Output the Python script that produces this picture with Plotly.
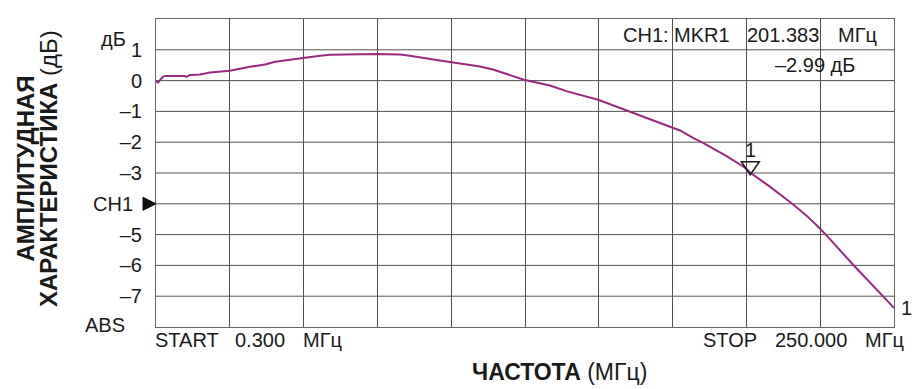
import plotly.graph_objects as go

# ---- data ----
freq_mhz = [0.3, 1.0, 2.7, 3.4, 10.1, 10.5, 11.8, 15.2, 18.6, 23.6, 25.3, 32.1, 37.2,
            40.6, 45.6, 50.0, 55.8, 59.2, 66.0, 75.1, 82.9, 86.2, 94.7, 100.1, 103.2,
            109.9, 114.3, 124.8, 133.6, 139.4, 149.9, 159.7, 166.4, 174.5, 177.6,
            182.0, 185.4, 193.5, 199.6, 201.4, 208.1, 215.9, 220.6, 224.7, 227.4,
            236.1, 242.9, 250.0]
gain_db = [-0.03, -0.06, 0.13, 0.15, 0.15, 0.12, 0.18, 0.20, 0.26, 0.29, 0.32, 0.45, 0.52,
           0.61, 0.68, 0.74, 0.81, 0.84, 0.85, 0.86, 0.85, 0.81, 0.68, 0.60, 0.57,
           0.46, 0.36, 0.03, -0.16, -0.35, -0.62, -0.97, -1.21, -1.49, -1.62,
           -1.86, -2.02, -2.46, -2.83, -2.99, -3.45, -4.02, -4.40, -4.78, -5.05,
           -5.97, -6.66, -7.38]
start_mhz = 0.300
stop_mhz = 250.000
marker_freq = 201.383
marker_db = -2.99
ytick_vals = [1, 0, -1, -2, -3, -5, -6, -7]
ytick_text = ["1", "0", "–1", "–2", "–3", "–5", "–6", "–7"]
ch1_ref_db = -4

# ---- layout geometry ----
W, H = 921, 389
ML, MR, MT, MB = 156, 27, 19, 62
PW, PH = W - ML - MR, H - MT - MB
FONT = "Liberation Sans, Arial, sans-serif"
LINE = "#9a2a80"
GRID = "#505050"
FS = 20


def px(xp):
    return (xp - ML) / PW


def py(yp):
    return (H - MB - yp) / PH


fig = go.Figure()
fig.add_trace(go.Scatter(x=freq_mhz, y=gain_db, mode="lines",
                         line=dict(color=LINE, width=2), hoverinfo="skip",
                         showlegend=False))

fig.update_layout(
    width=W, height=H,
    margin=dict(l=ML, r=MR, t=MT, b=MB, pad=0),
    paper_bgcolor="white", plot_bgcolor="white",
    font=dict(family=FONT, size=FS, color="#1a1a1a"),
    showlegend=False,
)
fig.update_xaxes(range=[start_mhz, stop_mhz], tick0=start_mhz,
                 dtick=(stop_mhz - start_mhz) / 10, showticklabels=False,
                 showgrid=True, gridcolor=GRID, gridwidth=1, zeroline=False,
                 showline=True, linecolor="#666666", linewidth=1, mirror=True,
                 ticks="")
fig.update_yaxes(range=[-8, 2], tickvals=ytick_vals, ticktext=ytick_text,
                 showgrid=False, zeroline=False,
                 showline=True, linecolor="#666666", linewidth=1, mirror=True,
                 ticks="", ticklabelstandoff=9,
                 tickfont=dict(family=FONT, size=FS, color="#1a1a1a"))
# horizontal grid lines every 1 dB (incl. -4 which has no numeric label)
for v in range(-7, 2):
    fig.add_shape(type="line", xref="paper", yref="y", x0=0, x1=1, y0=v, y1=v,
                  line=dict(color=GRID, width=1), layer="below")

ann = []


def text(s, x, y, xanchor="left", size=FS, **kw):
    ann.append(dict(text=s, xref="paper", yref="paper", x=x, y=y,
                    xanchor=xanchor, yanchor="middle", showarrow=False,
                    font=dict(family=FONT, size=size, color="#1a1a1a"),
                    borderpad=0, **kw))


text("дБ", px(127), py(38.5), "right")
text("CH1", px(134), py(203.5), "right")
text("ABS", px(126), py(325), "right")
text("START", px(154), py(340))
text(f"{start_mhz:.3f}", px(234), py(340))
text("МГц", px(302), py(340))
text("STOP", px(702), py(340))
text(f"{stop_mhz:.3f}", px(774), py(340))
text("МГц", px(864), py(340))
text("CH1: MKR1", px(622), py(35))
text(f"{marker_freq:.3f}", px(746), py(35))
text("МГц", px(837), py(35))
text(f"–{abs(marker_db):.2f} дБ", px(774), py(65))
text("<b>ЧАСТОТА</b> (МГц)", px(471), py(372), size=23)
text("<b>АМПЛИТУДНАЯ</b>", px(24.5), py(169), "center", size=24, textangle=-90)
text("<b>ХАРАКТЕРИСТИКА</b> (дБ)", px(48), py(169), "center", size=24, textangle=-90)

# marker label "1" above the marker triangle
ann.append(dict(text="1", x=marker_freq, y=marker_db, xref="x", yref="y",
                xanchor="center", yanchor="middle", yshift=23, showarrow=False,
                font=dict(family=FONT, size=FS, color="#1a1a1a")))
# channel label at the trace end
ann.append(dict(text="1", x=freq_mhz[-1], y=gain_db[-1], xref="x", yref="y",
                xanchor="left", yanchor="middle", xshift=5, showarrow=False,
                font=dict(family=FONT, size=FS, color="#1a1a1a")))
fig.update_layout(annotations=ann)

# marker triangle (open, tip just at the marker point)
fig.add_shape(type="path", xref="x", yref="y", xsizemode="pixel", ysizemode="pixel",
              xanchor=marker_freq, yanchor=marker_db,
              path="M -9,11 L 9,11 L 0,-2 Z",
              line=dict(color="#1a1a1a", width=1.5), fillcolor="rgba(0,0,0,0)")
# CH1 reference pointer (filled, tip at the left axis)
fig.add_shape(type="path", xref="paper", yref="y", xsizemode="pixel", ysizemode="pixel",
              xanchor=0, yanchor=ch1_ref_db,
              path="M -13,6.5 L 0,0 L -13,-6.5 Z",
              line=dict(color="#111111", width=1), fillcolor="#111111")

fig.write_html("out.html", config={"displayModeBar": False},
               post_script="document.body.style.margin='0';"
                           "document.body.style.overflow='hidden';")
